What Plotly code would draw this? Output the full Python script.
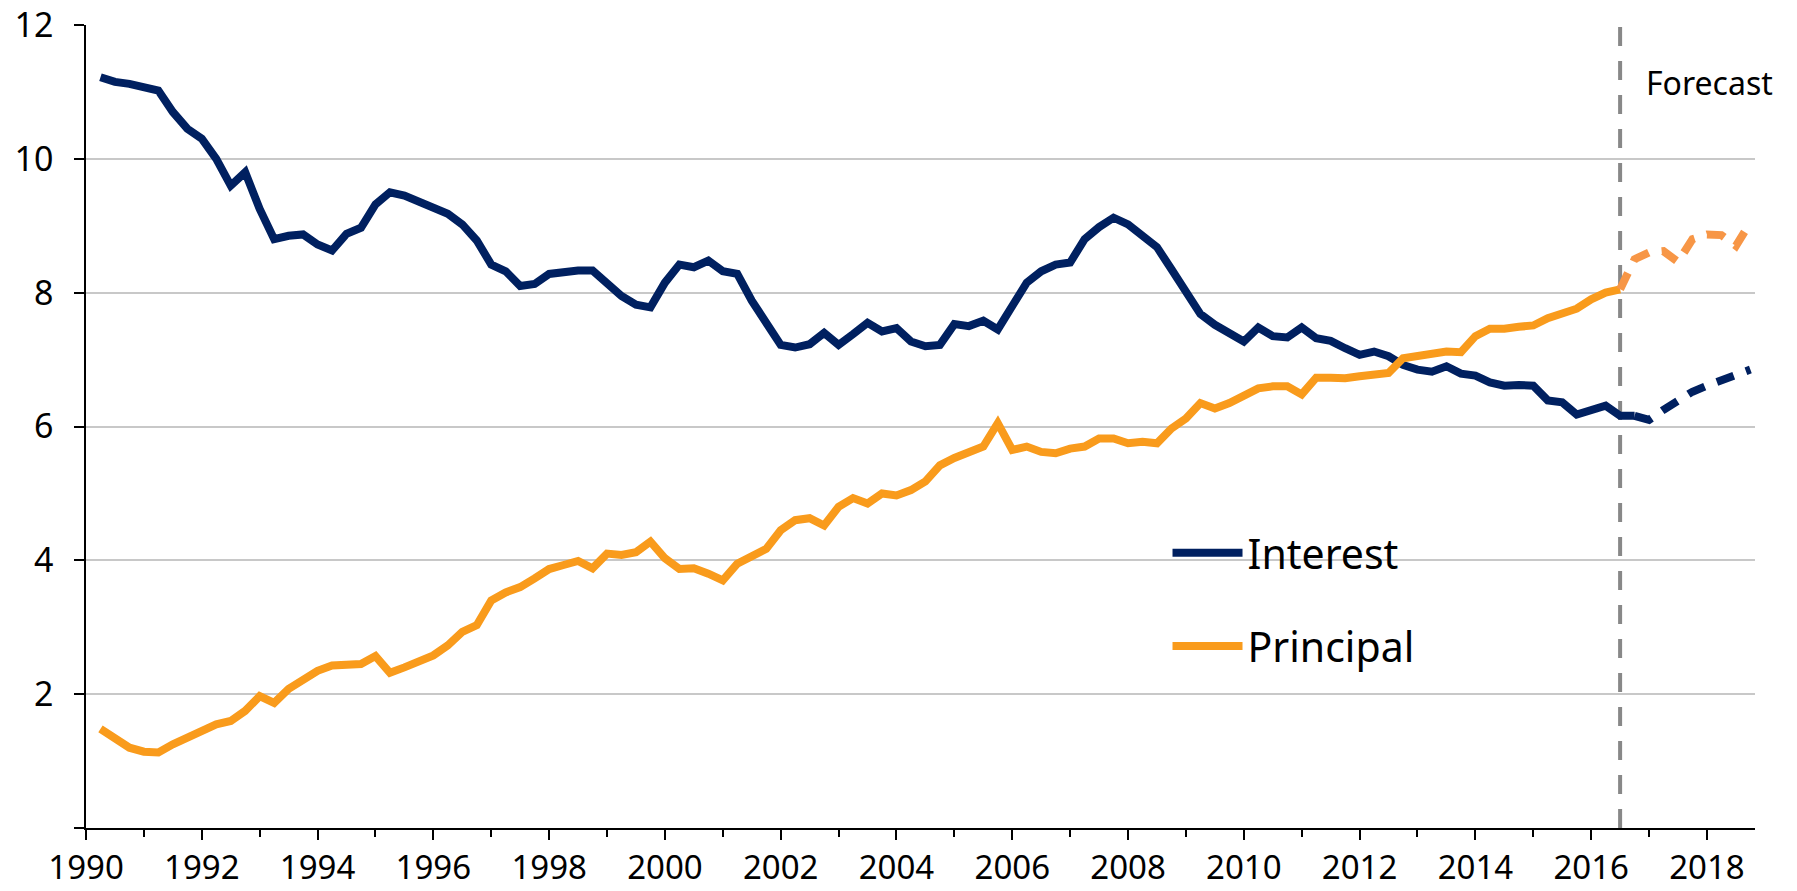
import plotly.graph_objects as go

# ---------------- data (quarterly) ----------------
start_year = 1990.25
quarter = 0.25

interest_actual = [
    11.22, 11.15, 11.12,
    11.07, 11.02, 10.70, 10.45,
    10.30, 10.00, 9.60, 9.80,
    9.25, 8.80, 8.85, 8.87,
    8.72, 8.63, 8.88, 8.97,
    9.32, 9.50, 9.45, 9.37,
    9.27, 9.18, 9.02, 8.78,
    8.42, 8.32, 8.10, 8.13,
    8.28, 8.32, 8.33, 8.33,
    8.15, 7.95, 7.82, 7.78,
    8.15, 8.42, 8.38, 8.48,
    8.32, 8.28, 7.88, 7.55,
    7.22, 7.18, 7.23, 7.40,
    7.22, 7.38, 7.55, 7.42,
    7.47, 7.27, 7.20, 7.22,
    7.53, 7.50, 7.58, 7.45,
    7.78, 8.15, 8.32, 8.42,
    8.45, 8.80, 8.98, 9.12,
    9.02, 8.85, 8.68, 8.35,
    8.02, 7.68, 7.52, 7.38,
    7.27, 7.48, 7.35, 7.33,
    7.48, 7.32, 7.28, 7.17,
    7.07, 7.12, 7.05, 6.92,
    6.85, 6.82, 6.90, 6.79,
    6.76, 6.66, 6.61, 6.62,
    6.61, 6.39, 6.36, 6.18,
    6.26, 6.31, 6.16, 6.16,
]

principal_actual = [
    1.48, 1.35, 1.20,
    1.14, 1.13, 1.25, 1.35,
    1.48, 1.55, 1.60, 1.75,
    1.97, 1.87, 2.08, 2.22,
    2.35, 2.43, 2.43, 2.45,
    2.57, 2.32, 2.40, 2.48,
    2.58, 2.73, 2.93, 3.03,
    3.40, 3.52, 3.60, 3.73,
    3.87, 3.93, 3.99, 3.88,
    4.10, 4.08, 4.12, 4.28,
    4.03, 3.87, 3.88, 3.80,
    3.70, 3.95, 4.07, 4.17,
    4.45, 4.60, 4.63, 4.52,
    4.80, 4.93, 4.85, 5.00,
    4.97, 5.05, 5.18, 5.42,
    5.53, 5.60, 5.70, 6.05,
    5.65, 5.70, 5.62, 5.60,
    5.67, 5.70, 5.82, 5.82,
    5.75, 5.77, 5.75, 5.97,
    6.12, 6.35, 6.27, 6.35,
    6.47, 6.57, 6.60, 6.60,
    6.48, 6.73, 6.73, 6.72,
    6.75, 6.77, 6.80, 7.02,
    7.05, 7.08, 7.12, 7.11,
    7.35, 7.46, 7.46, 7.49,
    7.51, 7.62, 7.68, 7.76,
    7.90, 8.00, 8.05,
]

# forecasts start at the last actual quarter of each series
interest_forecast = [6.16, 6.10, 6.25, 6.40, 6.52, 6.61, 6.70, 6.77, 6.85]
principal_forecast = [8.05, 8.50, 8.60, 8.62, 8.46, 8.80, 8.87, 8.86, 8.70, 9.05]

forecast_start = 2016.5
x_tick_years = list(range(1990, 2019, 2))
y_ticks = [0, 2, 4, 6, 8, 10, 12]
y_tick_text = ["", "2", "4", "6", "8", "10", "12"]

# ---------------- x positions ----------------
x_int = [start_year + quarter * i for i in range(len(interest_actual))]
x_pri = [start_year + quarter * i for i in range(len(principal_actual))]
x_int_f = [x_int[-1] + quarter * i for i in range(len(interest_forecast))]
x_pri_f = [x_pri[-1] + quarter * i for i in range(len(principal_forecast))]

NAVY = "#002060"
ORANGE = "#F99B1C"
ORANGE_F = "#F79646"
FONT = "Noto Sans"
LW = 8

fig = go.Figure()
fig.add_trace(go.Scatter(x=x_int, y=interest_actual, mode="lines", name="Interest",
                         legendgroup="i", line=dict(color=NAVY, width=LW)))
fig.add_trace(go.Scatter(x=x_pri, y=principal_actual, mode="lines", name="Principal",
                         legendgroup="p", line=dict(color=ORANGE, width=LW)))
fig.add_trace(go.Scatter(x=x_int_f, y=interest_forecast, mode="lines", showlegend=False,
                         legendgroup="i", line=dict(color=NAVY, width=LW, dash="18px,13px")))
fig.add_trace(go.Scatter(x=x_pri_f, y=principal_forecast, mode="lines", showlegend=False,
                         legendgroup="p", line=dict(color=ORANGE_F, width=LW, dash="18px,13px")))

# white box behind the legend (hides gridlines only)
fig.add_shape(type="rect", xref="x", yref="y", x0=2007.33, x1=2014.46, y0=2.15, y1=4.8,
              fillcolor="white", line=dict(width=0), layer="below")
# forecast divider
fig.add_shape(type="line", xref="x", yref="y", x0=forecast_start, x1=forecast_start, y0=0, y1=12,
              line=dict(color="#888888", width=4, dash="19px,15px"), layer="below")

fig.add_annotation(x=forecast_start, y=11.14, xref="x", yref="y", text="Forecast",
                   showarrow=False, xanchor="left", yanchor="middle", xshift=24,
                   font=dict(family=FONT, size=32, color="black"))

fig.update_layout(
    width=1797, height=891,
    margin=dict(l=86, r=42, t=25, b=63, autoexpand=False),
    paper_bgcolor="white", plot_bgcolor="white",
    font=dict(family=FONT, size=34, color="black"),
    showlegend=True,
    legend=dict(x=0.648, y=0.384, xanchor="left", yanchor="top",
                bgcolor="rgba(255,255,255,0)", borderwidth=0,
                font=dict(family=FONT, size=41, color="black"),
                itemwidth=70, tracegroupgap=37, traceorder="grouped"),
    xaxis=dict(range=[1990, 2018.83], tickvals=x_tick_years, ticks="outside", ticklen=10,
               tickwidth=1.5, tickcolor="black", showline=True, linecolor="black", linewidth=1.5,
               showgrid=False, zeroline=False, ticklabelstandoff=0,
               tickfont=dict(family=FONT, size=33),
               minor=dict(dtick=1, tick0=1990, ticks="outside", ticklen=7, tickwidth=1.5,
                          tickcolor="black", showgrid=False)),
    yaxis=dict(range=[0, 12], tickvals=y_ticks, ticktext=y_tick_text, ticks="outside", ticklen=10,
               tickwidth=1.5, tickcolor="black", showline=True, linecolor="black", linewidth=1.5,
               showgrid=True, gridcolor="#C8C8C8", gridwidth=1.5, zeroline=False,
               ticklabelstandoff=14, tickfont=dict(family=FONT, size=34)),
)

fig.write_html("out.html", config={"displayModeBar": False},
               post_script="document.body.style.margin='0';document.body.style.overflow='hidden';")
